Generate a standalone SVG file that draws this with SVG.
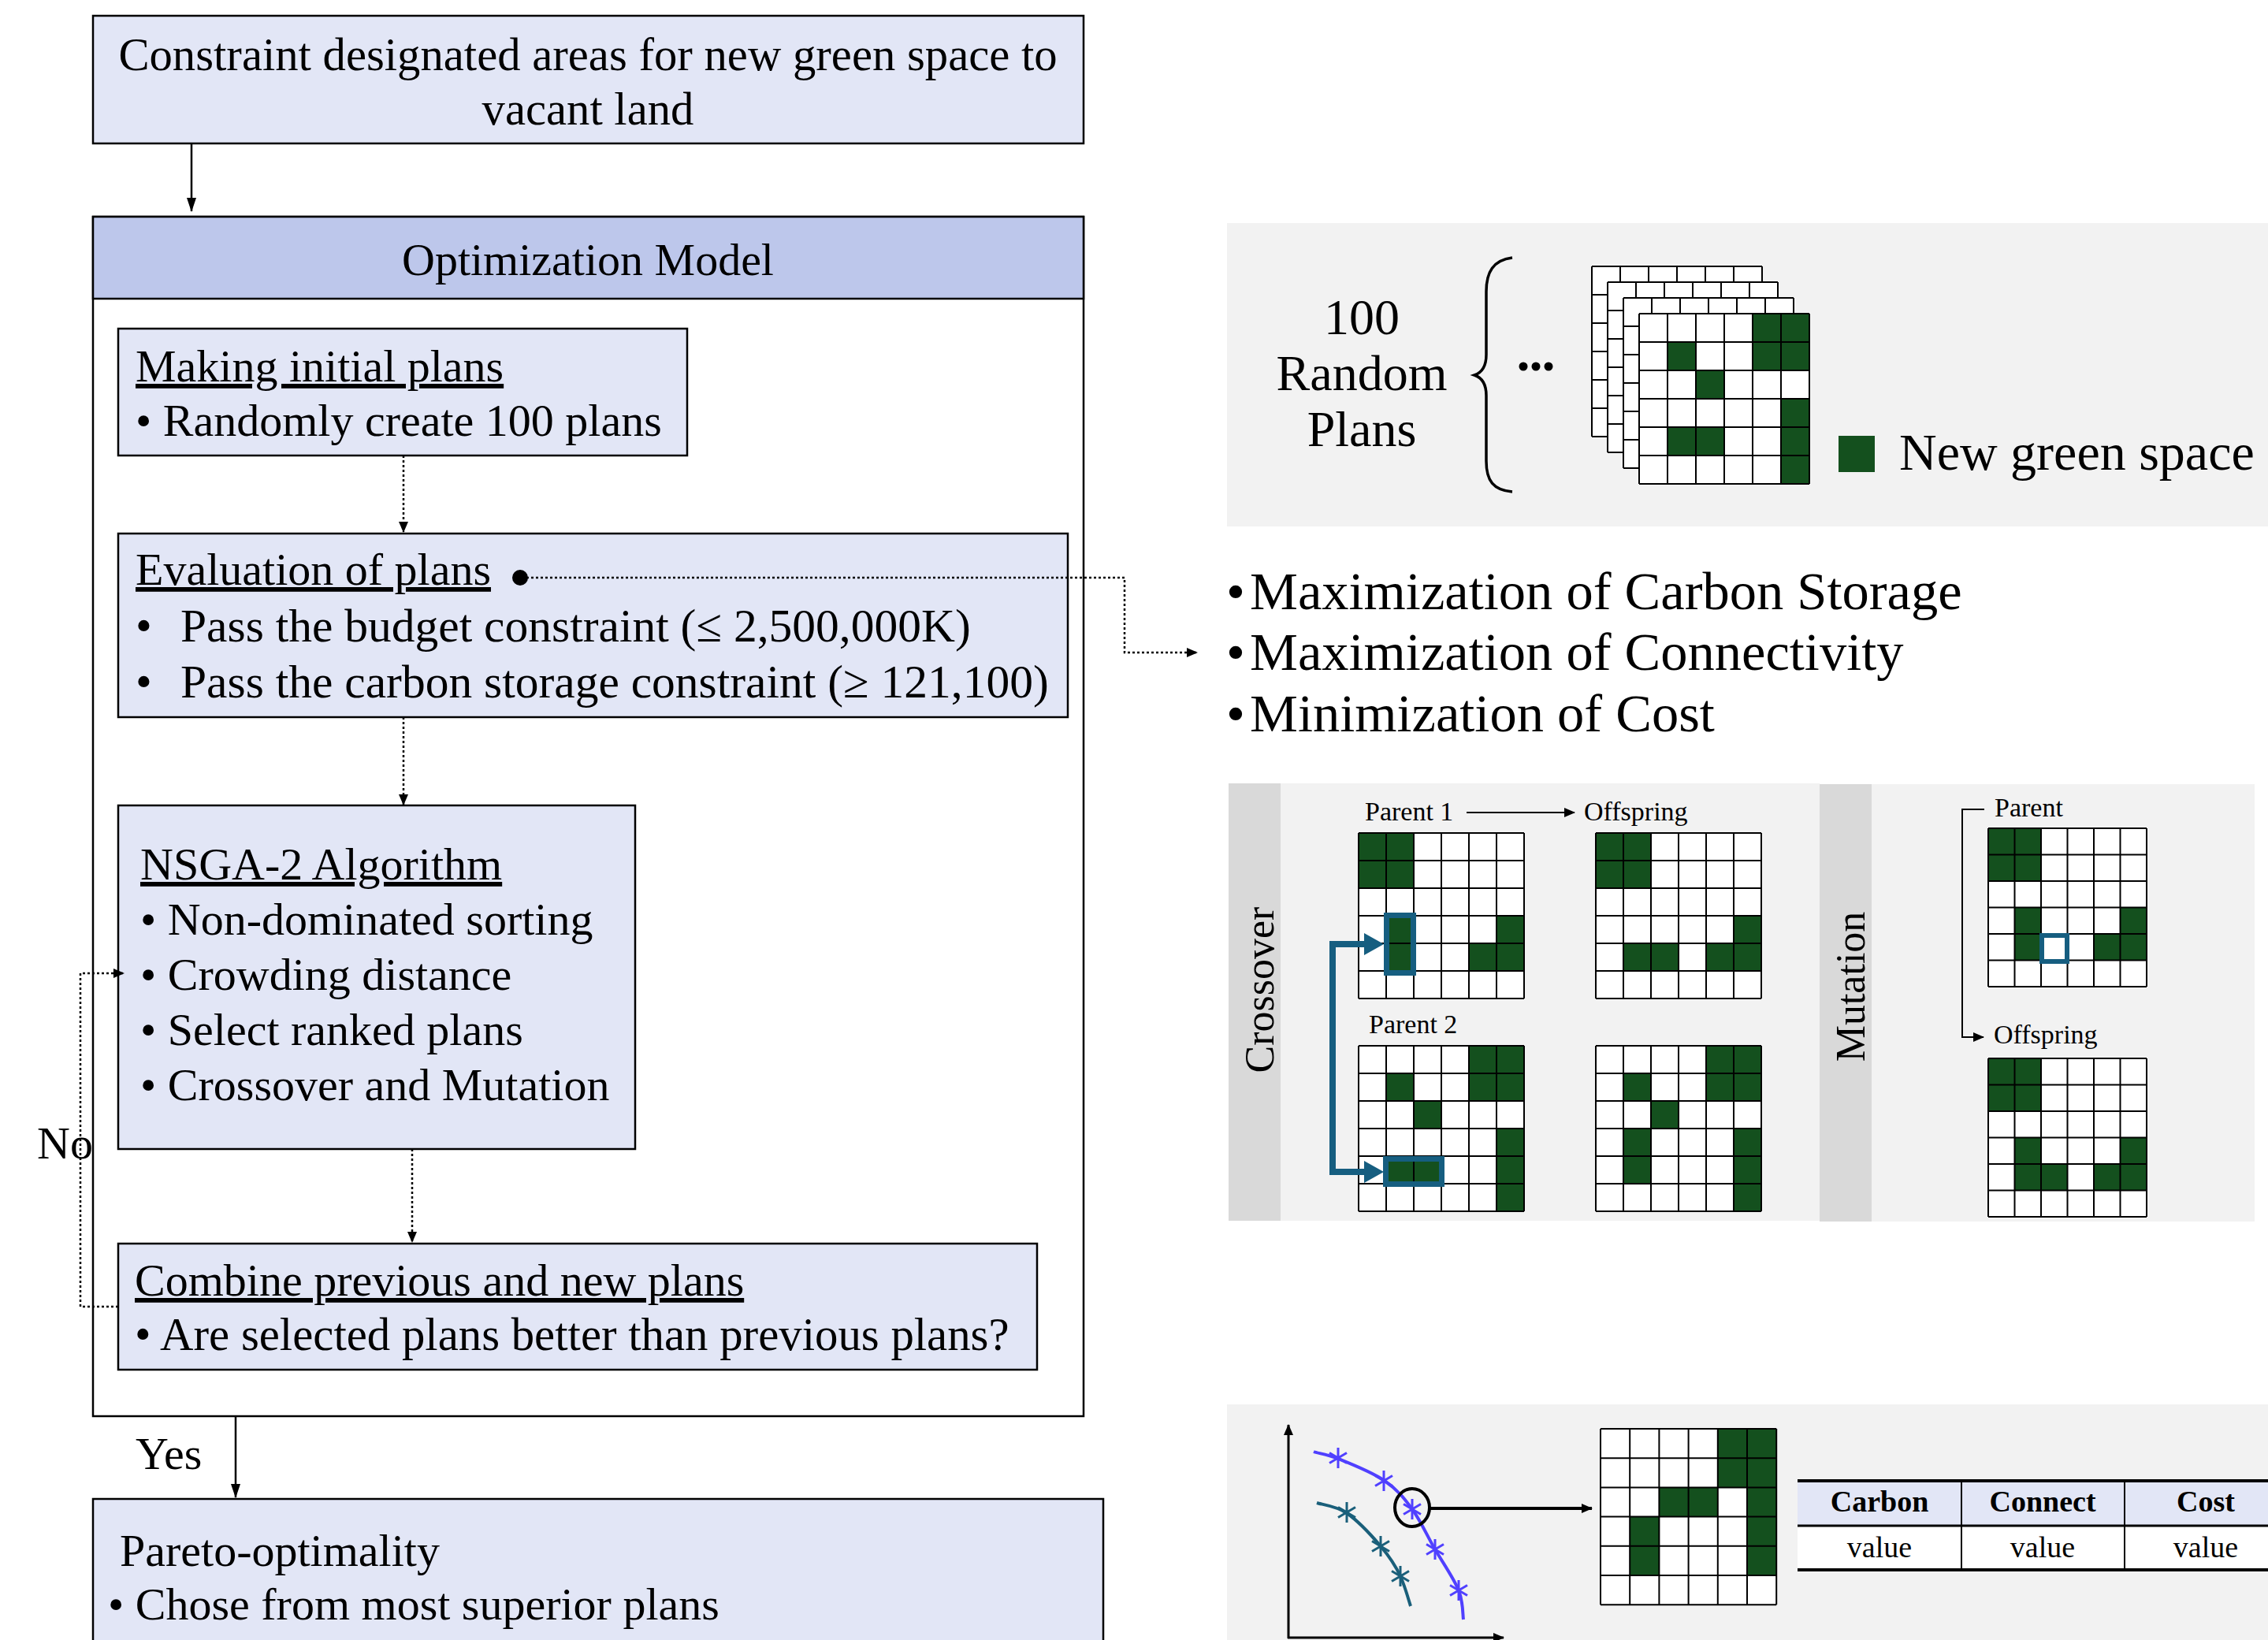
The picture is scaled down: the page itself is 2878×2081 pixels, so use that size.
<svg xmlns="http://www.w3.org/2000/svg" xmlns:xlink="http://www.w3.org/1999/xlink" width="2878" height="2081" viewBox="0 0 2878 2081">
<style>
text{font-family:"Liberation Serif","Times New Roman",serif;fill:#000}
.t58{font-size:58px}
.u{text-decoration:underline}
.box{fill:#e2e6f6;stroke:#000;stroke-width:2.5}
.hdr{fill:#bdc7eb;stroke:#000;stroke-width:2.5}
.panel{fill:#f2f2f2}
.side{fill:#d9d9d9}
.solid{fill:none;stroke:#000;stroke-width:2.5}
.dot{fill:none;stroke:#000;stroke-width:2.5;stroke-dasharray:3 3}
.gc{fill:#14501e}
.blue{fill:none;stroke:#165e80}
.gl{fill:none;stroke:#000;stroke-width:2;vector-effect:non-scaling-stroke}
</style>
<defs>
<marker id="ah" markerUnits="userSpaceOnUse" markerWidth="18" markerHeight="12" viewBox="0 0 18 12" refX="17" refY="6" orient="auto"><path d="M0,0L18,6L0,12z" fill="#000"/></marker>
<marker id="ahs" markerUnits="userSpaceOnUse" markerWidth="14" markerHeight="12" viewBox="0 0 14 12" refX="13" refY="6" orient="auto"><path d="M0,0L14,6L0,12z" fill="#000"/></marker>
<path id="gridlines" class="gl" d="M0,0H6M0,1H6M0,2H6M0,3H6M0,4H6M0,5H6M0,6H6M0,0V6M1,0V6M2,0V6M3,0V6M4,0V6M5,0V6M6,0V6"/>
<path id="star" d="M0,-13V13M-11,-6.5L11,6.5M-11,6.5L11,-6.5"/>
</defs>

<!-- Left flowchart -->
<g id="node-constraint">
<rect class="box" x="118" y="20" width="1257" height="162"/>
<text x="746" y="89" font-size="58.7" text-anchor="middle">Constraint designated areas for new green space to</text>
<text x="746" y="158" font-size="58.7" text-anchor="middle">vacant land</text>
</g>

<g id="node-optimization-model">
<rect x="118" y="275" width="1257" height="1522" fill="#fff" stroke="#000" stroke-width="2.5"/>
<rect class="hdr" x="118" y="275" width="1257" height="104"/>
<text class="t58" x="746" y="349" text-anchor="middle">Optimization Model</text>
</g>

<g id="node-initial-plans">
<rect class="box" x="150" y="417" width="722" height="161"/>
<text class="t58 u" x="172" y="484">Making initial plans</text>
<text class="t58" x="172" y="553">• Randomly create 100 plans</text>
</g>

<g id="node-evaluation">
<rect class="box" x="150" y="677" width="1205" height="233"/>
<text class="t58 u" x="172" y="742">Evaluation of plans</text>
<circle cx="660" cy="733" r="10" fill="#000"/>
<text font-size="59.5" y="814"><tspan x="172">•</tspan><tspan x="229">Pass the budget constraint (≤ 2,500,000K)</tspan></text>
<text font-size="59.5" y="885"><tspan x="172">•</tspan><tspan x="229">Pass the carbon storage constraint (≥ 121,100)</tspan></text>
</g>

<g id="node-nsga2">
<rect class="box" x="150" y="1022" width="656" height="436"/>
<text class="t58 u" x="178" y="1116">NSGA-2 Algorithm</text>
<text class="t58" x="178" y="1186">• Non-dominated sorting</text>
<text class="t58" x="178" y="1256">• Crowding distance</text>
<text class="t58" x="178" y="1326">• Select ranked plans</text>
<text class="t58" x="178" y="1396">• Crossover and Mutation</text>
</g>

<g id="node-combine">
<rect class="box" x="150" y="1578" width="1166" height="160"/>
<text class="t58 u" x="171" y="1644">Combine previous and new plans</text>
<text font-size="58.8" x="171" y="1713">• Are selected plans better than previous plans?</text>
</g>

<g id="node-pareto">
<rect class="box" x="118" y="1902" width="1282" height="200"/>
<text class="t58" x="152" y="1987">Pareto-optimality</text>
<text class="t58" x="137" y="2055">• Chose from most superior plans</text>
</g>

<g id="connectors">
<line class="solid" x1="243" y1="182" x2="243" y2="268" marker-end="url(#ah)"/>
<line class="dot" x1="512" y1="578" x2="512" y2="675" marker-end="url(#ahs)"/>
<line class="dot" x1="512" y1="910" x2="512" y2="1021" marker-end="url(#ahs)"/>
<line class="dot" x1="523" y1="1458" x2="523" y2="1576" marker-end="url(#ahs)"/>
<path class="dot" d="M668,733H1427V828H1519" marker-end="url(#ahs)"/>
<path class="dot" d="M150,1658H102V1235H157" marker-end="url(#ahs)"/>
<text class="t58" x="47" y="1470">No</text>
<line class="solid" x1="299" y1="1797" x2="299" y2="1900" marker-end="url(#ah)"/>
<text class="t58" x="172" y="1864">Yes</text>
</g>

<!-- Random plans panel -->
<g id="node-random-plans">
<rect class="panel" x="1557" y="283" width="1321" height="385"/>
<text x="1728" y="424" font-size="64" text-anchor="middle">100</text>
<text x="1728" y="495" font-size="64" text-anchor="middle">Random</text>
<text x="1728" y="566" font-size="64" text-anchor="middle">Plans</text>
<path d="M1919,327C1895,330 1886,345 1886,370L1886,450C1886,465 1880,473 1871,476C1880,479 1886,487 1886,502L1886,585C1886,610 1895,622 1919,624" fill="none" stroke="#000" stroke-width="3.5"/>
<circle cx="1933" cy="465" r="5.5"/><circle cx="1949" cy="465" r="5.5"/><circle cx="1965" cy="465" r="5.5"/>
<g transform="translate(2020,338) scale(36)"><rect width="6" height="6" fill="#fff"/><use xlink:href="#gridlines"/></g>
<g transform="translate(2040,358) scale(36)"><rect width="6" height="6" fill="#fff"/><use xlink:href="#gridlines"/></g>
<g transform="translate(2060,378) scale(36)"><rect width="6" height="6" fill="#fff"/><use xlink:href="#gridlines"/></g>
<g transform="translate(2080,398) scale(36)"><rect width="6" height="6" fill="#fff"/><path class="gc" d="M4,0h2v2h-2zM1,1h1v1h-1zM2,2h1v1h-1zM5,3h1v3h-1zM1,4h2v1h-2z"/><use xlink:href="#gridlines"/></g>
<rect class="gc" x="2333" y="553" width="46" height="46"/>
<text x="2410" y="596" font-size="66">New green space</text>
</g>

<!-- Objectives -->
<g id="node-objectives">
<text font-size="68.5" y="773"><tspan x="1556">•</tspan><tspan x="1586">Maximization of Carbon Storage</tspan></text>
<text font-size="68.5" y="850"><tspan x="1556">•</tspan><tspan x="1586">Maximization of Connectivity</tspan></text>
<text font-size="68.5" y="928"><tspan x="1556">•</tspan><tspan x="1586">Minimization of Cost</tspan></text>
</g>

<!-- Crossover panel -->
<g id="node-crossover">
<rect class="panel" x="1559" y="994" width="750" height="555"/>
<rect class="side" x="1559" y="994" width="66" height="555"/>
<text transform="translate(1616,1256) rotate(-90)" font-size="52" text-anchor="middle">Crossover</text>
<text x="1732" y="1041" font-size="34">Parent 1</text>
<line x1="1861" y1="1031" x2="1998" y2="1031" stroke="#000" stroke-width="2" marker-end="url(#ahs)"/>
<text x="2010" y="1041" font-size="34">Offspring</text>
<text x="1737" y="1311" font-size="34">Parent 2</text>
<g transform="translate(1724,1057) scale(35)"><rect width="6" height="6" fill="#fff"/><path class="gc" d="M0,0h2v2h-2zM1,3h1v2h-1zM5,3h1v2h-1zM4,4h1v1h-1z"/><use xlink:href="#gridlines"/></g>
<g transform="translate(2025,1057) scale(35)"><rect width="6" height="6" fill="#fff"/><path class="gc" d="M0,0h2v2h-2zM5,3h1v2h-1zM1,4h2v1h-2zM4,4h1v1h-1z"/><use xlink:href="#gridlines"/></g>
<g transform="translate(1724,1327) scale(35)"><rect width="6" height="6" fill="#fff"/><path class="gc" d="M4,0h2v2h-2zM1,1h1v1h-1zM2,2h1v1h-1zM5,3h1v3h-1zM1,4h2v1h-2z"/><use xlink:href="#gridlines"/></g>
<g transform="translate(2025,1327) scale(35)"><rect width="6" height="6" fill="#fff"/><path class="gc" d="M4,0h2v2h-2zM1,1h1v1h-1zM2,2h1v1h-1zM1,3h1v2h-1zM5,3h1v3h-1z"/><use xlink:href="#gridlines"/></g>
<rect class="blue" x="1759.5" y="1161.5" width="34" height="73" stroke-width="7"/>
<rect class="blue" x="1758.5" y="1470.5" width="71" height="32" stroke-width="7"/>
<path class="blue" d="M1734,1198H1691V1487H1734" stroke-width="8"/>
<path d="M1731,1184L1756,1198L1731,1212zM1731,1473L1756,1487L1731,1501z" fill="#165e80"/>
</g>

<!-- Mutation panel -->
<g id="node-mutation">
<rect class="panel" x="2309" y="995" width="552" height="555"/>
<rect class="side" x="2309" y="995" width="66" height="555"/>
<text transform="translate(2366,1252) rotate(-90)" font-size="52" text-anchor="middle">Mutation</text>
<path d="M2518,1027H2490V1316H2517" fill="none" stroke="#000" stroke-width="2" marker-end="url(#ahs)"/>
<text x="2531" y="1036" font-size="34">Parent</text>
<text x="2530" y="1324" font-size="34">Offspring</text>
<g transform="translate(2523,1051) scale(33.5)"><rect width="6" height="6" fill="#fff"/><path class="gc" d="M0,0h2v2h-2zM1,3h1v2h-1zM5,3h1v2h-1zM4,4h1v1h-1z"/><use xlink:href="#gridlines"/></g>
<g transform="translate(2523,1343) scale(33.5)"><rect width="6" height="6" fill="#fff"/><path class="gc" d="M0,0h2v2h-2zM1,3h1v2h-1zM5,3h1v2h-1zM2,4h1v1h-1zM4,4h1v1h-1z"/><use xlink:href="#gridlines"/></g>
<rect class="blue" x="2591" y="1187" width="32" height="33" stroke-width="6"/>
</g>

<!-- Pareto result panel -->
<g id="node-pareto-front">
<rect class="panel" x="1557" y="1782" width="1321" height="299"/>
<path d="M1635,2079V1808" fill="none" stroke="#000" stroke-width="3" marker-end="url(#ahs)"/>
<path d="M1634,2078H1908" fill="none" stroke="#000" stroke-width="3" marker-end="url(#ahs)"/>
<path d="M1667,1842C1672,1844 1683,1845 1698,1851C1713,1857 1741,1868 1757,1879C1773,1890 1781,1900 1792,1915C1803,1930 1811,1949 1821,1966C1831,1983 1845,2003 1851,2018C1857,2033 1856,2049 1857,2055" fill="none" stroke="#5040ff" stroke-width="4"/>
<path d="M1671,1907C1677,1909 1696,1911 1709,1920C1722,1929 1741,1949 1752,1962C1763,1975 1771,1987 1777,2000C1783,2013 1788,2032 1790,2038" fill="none" stroke="#1a5f7a" stroke-width="4"/>
<g stroke="#5040ff" stroke-width="3"><use xlink:href="#star" x="1698" y="1850"/><use xlink:href="#star" x="1756" y="1879"/><use xlink:href="#star" x="1792" y="1915"/><use xlink:href="#star" x="1821" y="1966"/><use xlink:href="#star" x="1851" y="2018"/></g>
<g stroke="#1a5f7a" stroke-width="3"><use xlink:href="#star" x="1709" y="1919"/><use xlink:href="#star" x="1752" y="1962"/><use xlink:href="#star" x="1777" y="2000"/></g>
<ellipse cx="1792" cy="1913" rx="22" ry="24" fill="none" stroke="#000" stroke-width="4"/>
<line x1="1815" y1="1914" x2="2020" y2="1914" stroke="#000" stroke-width="4" marker-end="url(#ahs)"/>
<g transform="translate(2031,1813) scale(37.2)"><rect width="6" height="6" fill="#fff"/><path class="gc" d="M4,0h2v2h-2zM2,2h2v1h-2zM5,2h1v3h-1zM1,3h1v2h-1z"/><use xlink:href="#gridlines"/></g>
</g>

<g id="node-result-table">
<rect x="2281" y="1879" width="620" height="57" fill="#e2e6f6"/>
<rect x="2281" y="1936" width="620" height="56" fill="#fff"/>
<line x1="2281" y1="1879" x2="2878" y2="1879" stroke="#000" stroke-width="4"/>
<line x1="2281" y1="1936" x2="2878" y2="1936" stroke="#000" stroke-width="3"/>
<line x1="2281" y1="1992" x2="2878" y2="1992" stroke="#000" stroke-width="4"/>
<line x1="2489" y1="1879" x2="2489" y2="1992" stroke="#000" stroke-width="2"/>
<line x1="2696" y1="1879" x2="2696" y2="1992" stroke="#000" stroke-width="2"/>
<text x="2385" y="1918" font-size="38" font-weight="bold" text-anchor="middle">Carbon</text>
<text x="2592" y="1918" font-size="38" font-weight="bold" text-anchor="middle">Connect</text>
<text x="2799" y="1918" font-size="38" font-weight="bold" text-anchor="middle">Cost</text>
<text x="2385" y="1976" font-size="38" text-anchor="middle">value</text>
<text x="2592" y="1976" font-size="38" text-anchor="middle">value</text>
<text x="2799" y="1976" font-size="38" text-anchor="middle">value</text>
</g>
</svg>
